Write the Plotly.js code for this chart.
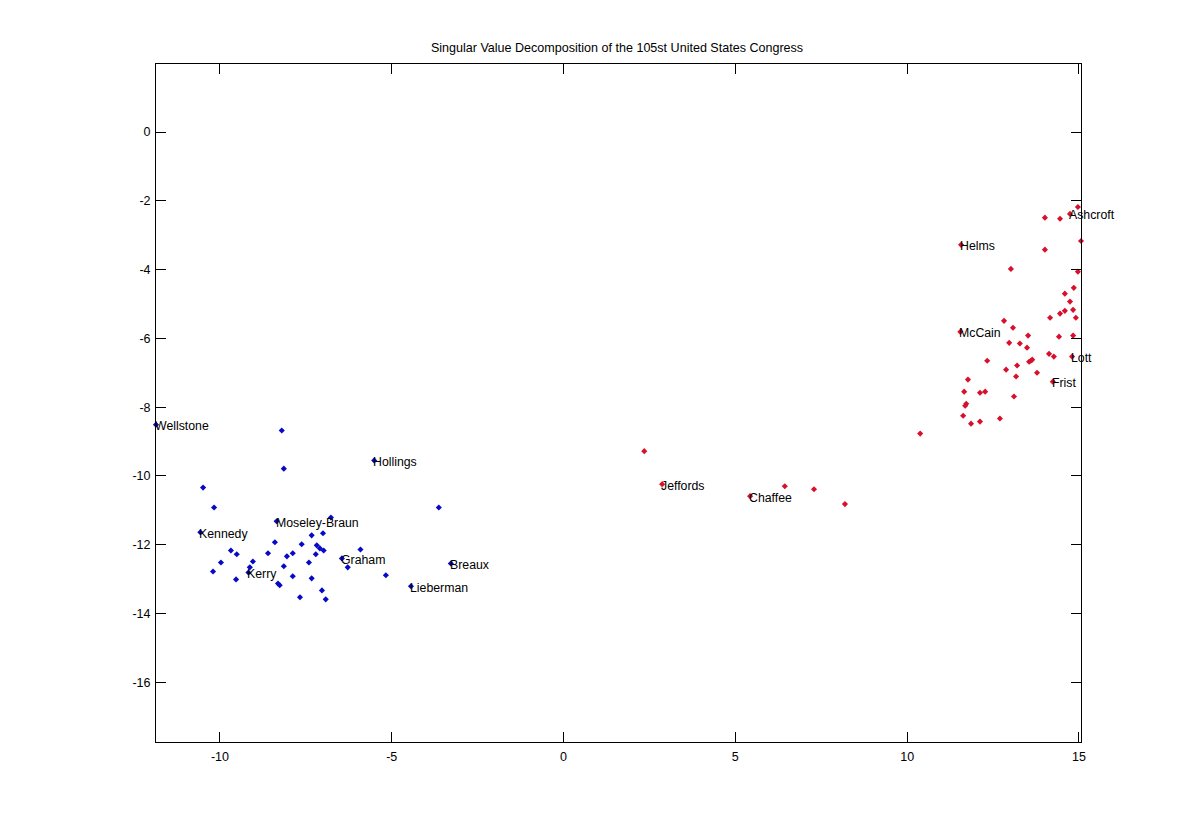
<!DOCTYPE html>
<html><head><meta charset="utf-8">
<script src="https://cdn.plot.ly/plotly-3.0.1.min.js"></script>
<style>html,body{margin:0;padding:0;background:#fff}</style></head>
<body><div id="chart" style="width:1195px;height:835px"></div>
<script>
const titleText = "Singular Value Decomposition of the 105st United States Congress";
const demX = [-11.86,-8.20,-8.14,-5.51,-10.49,-10.17,-3.63,-6.77,-8.35,-10.57,-7.00,-7.33,-8.40,-7.62,-7.18,-7.09,-6.98,-5.91,-9.68,-9.51,-8.60,-7.88,-8.05,-7.21,-6.45,-9.04,-9.97,-7.41,-6.28,-8.14,-9.13,-3.28,-10.20,-9.17,-7.88,-5.17,-9.53,-7.33,-8.31,-8.26,-4.44,-7.03,-7.67,-6.92];
const demY = [-8.51,-8.68,-9.79,-9.55,-10.34,-10.92,-10.92,-11.21,-11.32,-11.64,-11.67,-11.73,-11.93,-11.99,-12.02,-12.11,-12.17,-12.14,-12.17,-12.28,-12.25,-12.25,-12.34,-12.28,-12.40,-12.49,-12.52,-12.52,-12.66,-12.63,-12.66,-12.55,-12.78,-12.81,-12.92,-12.89,-13.01,-12.98,-13.13,-13.18,-13.21,-13.33,-13.53,-13.59];
const repX = [14.97,14.74,14.01,14.45,11.57,15.06,14.01,13.02,14.97,14.85,14.59,14.74,14.83,14.59,14.45,14.16,14.91,12.82,13.08,11.55,13.52,14.42,14.83,12.97,13.28,13.49,14.13,14.27,14.80,12.33,13.20,13.55,13.60,13.64,12.88,13.78,13.17,11.77,14.24,11.66,12.12,12.27,13.11,11.72,11.69,11.63,12.12,11.86,12.70,10.38,2.35,2.87,5.43,6.44,7.29,8.19];
const repY = [-2.18,-2.38,-2.49,-2.52,-3.28,-3.17,-3.42,-3.98,-4.06,-4.53,-4.70,-4.93,-5.17,-5.20,-5.28,-5.40,-5.40,-5.49,-5.69,-5.81,-5.92,-5.95,-5.92,-6.13,-6.15,-6.27,-6.45,-6.53,-6.53,-6.65,-6.79,-6.68,-6.65,-6.62,-6.91,-7.00,-7.11,-7.20,-7.26,-7.55,-7.58,-7.55,-7.69,-7.90,-7.96,-8.25,-8.42,-8.48,-8.33,-8.77,-9.28,-10.24,-10.59,-10.30,-10.39,-10.82];
const labelNames = ["Wellstone","Hollings","Moseley-Braun","Kennedy","Graham","Breaux","Kerry","Lieberman","Jeffords","Chaffee","Helms","Ashcroft","McCain","Lott","Frist"];
const labelX = [-11.86,-5.51,-8.35,-10.57,-6.45,-3.28,-9.17,-4.44,2.87,5.43,11.57,14.74,11.55,14.80,14.24];
const labelY = [-8.51,-9.55,-11.32,-11.64,-12.40,-12.55,-12.81,-13.21,-10.24,-10.59,-3.28,-2.38,-5.81,-6.53,-7.26];
const xTicks = [-10,-5,0,5,10,15];
const xTickText = ["-10","-5","0","5","10","15"];
const yTicks = [-16,-14,-12,-10,-8,-6,-4,-2,0];
const yTickText = ["-16","-14","-12","-10","-8","-6","-4","-2","0"];
const xRange = [-11.86,15.06];
const yRange = [-17.74,1.98];

const FONT = "Liberation Sans, Arial, sans-serif";
const axisBase = {
  showgrid:false, zeroline:false, showline:true, linecolor:"#000", linewidth:1,
  mirror:"ticks", ticks:"inside", ticklen:10, tickwidth:1, tickcolor:"#000",
  tickmode:"array", tickfont:{family:FONT,size:12.5,color:"#000"}, automargin:false
};
Plotly.newPlot("chart",[
  {type:"scatter",mode:"markers",x:demX,y:demY,cliponaxis:false,hoverinfo:"x+y",
   marker:{symbol:"diamond",size:4.7,color:"#0808c8"}},
  {type:"scatter",mode:"markers",x:repX,y:repY,cliponaxis:false,hoverinfo:"x+y",
   marker:{symbol:"diamond",size:4.7,color:"#d8102c"}}
],{
  width:1195,height:835,showlegend:false,
  paper_bgcolor:"#fff",plot_bgcolor:"#fff",
  margin:{l:155.6,r:113.6,t:64,b:93,pad:0},
  title:{text:titleText,x:617/1195,xanchor:"center",y:1-47.5/835,yanchor:"middle",font:{family:FONT,size:12.55,color:"#000"}},
  xaxis:Object.assign({},axisBase,{range:xRange,tickvals:xTicks,ticktext:xTickText,ticklabelstandoff:3}),
  yaxis:Object.assign({},axisBase,{range:yRange,tickvals:yTicks,ticktext:yTickText,ticklabelstandoff:2}),
  annotations:labelNames.map((n,i)=>({
    text:n,x:labelX[i],y:labelY[i],xref:"x",yref:"y",showarrow:false,
    xanchor:"left",yanchor:"middle",xshift:-1,yshift:-1.5,borderpad:0,borderwidth:0,
    font:{family:FONT,size:12.3,color:"#000"}
  }))
},{displayModeBar:false,staticPlot:true});
</script></body></html>
